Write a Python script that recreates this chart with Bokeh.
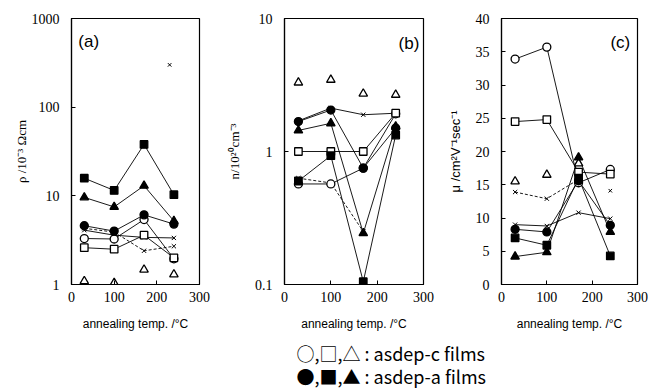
import math
from bokeh.plotting import figure
from bokeh.layouts import row, column
from bokeh.models import Range1d, FixedTicker, CustomJSTickFormatter, Label
from bokeh.core.properties import value
from bokeh.embed import file_html
from bokeh.resources import INLINE

nan = float("nan")

# annealing temperatures (deg C)
T = [30, 100, 170, 240]
x_ticks = [0, 100, 200, 300]

# (a) resistivity  rho / 10^-3 Ohm cm
a_open_circle = [3.3, 3.26, 5.4, 1.95]
a_open_square = [2.6, 2.5, 3.6, 2.0]
a_open_tri = [1.09, 1.04, 1.47, 1.3]
a_fill_circle = [4.6, 4.0, 6.1, 4.8]
a_fill_square = [15.8, 11.5, 38.0, 10.3]
a_fill_tri = [9.6, 7.5, 13.0, 5.2]
a_cross = [4.1, 3.6, 3.4, 3.35]
a_cross_dash = [4.3, 3.9, 2.4, 2.7]
a_extra_T = [230]
a_extra = [300]
a_ticks = [1, 10, 100, 1000]

# (b) carrier concentration  n / 10^20 cm^-3
b_open_circle = [0.57, 0.57, 0.75, 1.92]
b_open_square = [1.0, 1.0, 1.0, 1.94]
b_open_tri = [3.3, 3.46, 2.72, 2.67]
b_fill_circle = [1.68, 2.05, 0.75, 1.5]
b_fill_square = [0.6, 0.93, 0.105, 1.33]
b_fill_tri = [1.44, 1.63, 0.243, 1.54]
b_cross = [1.7, 2.12, 1.89, 1.94]
b_cross_dash = [0.63, 0.58, 0.25, nan]
b_ticks = [0.1, 1, 10]

# (c) mobility  mu / cm^2 V^-1 sec^-1
c_open_circle = [33.9, 35.7, 15.3, 17.3]
c_open_square = [24.5, 24.8, 16.9, 16.6]
c_open_tri = [15.5, 16.5, 18.2, nan]
c_fill_circle = [8.3, 7.9, 15.6, 8.9]
c_fill_square = [7.0, 5.9, 16.0, 4.3]
c_fill_tri = [4.2, 4.85, 19.1, 7.9]
c_cross = [9.0, 8.8, 10.8, 9.9]
c_cross_dash = [13.9, 12.9, 15.8, nan]
c_extra_T = [240]
c_extra = [14.1]
c_ticks = [0, 5, 10, 15, 20, 25, 30, 35, 40]

SERIF = "'Liberation Serif', 'Times New Roman', serif"
SANS = "'Liberation Sans', Arial, sans-serif"
JP = "'Noto Sans CJK JP', sans-serif"


def make_panel(series, extra, y_type, y_rng, ticks, ylabel, ylabel_font,
               tag, tag_x, tag_y, tag_align, bl, fw, br, lab_standoff):
    p = figure(frame_width=fw, frame_height=266,
               min_border_left=bl, min_border_right=br,
               min_border_top=18, min_border_bottom=56,
               x_range=Range1d(0, 300), y_range=Range1d(*y_rng),
               y_axis_type=y_type, toolbar_location=None,
               output_backend="svg")
    p.xgrid.visible = False
    p.ygrid.visible = False
    p.outline_line_color = "black"
    p.outline_line_width = 1.2
    p.background_fill_color = "white"
    p.border_fill_color = "white"
    for ax in p.axis:
        ax.axis_line_color = "black"
        ax.axis_line_width = 1.2
        ax.major_tick_in = 4
        ax.major_tick_out = 0
        ax.major_tick_line_color = "black"
        ax.minor_tick_line_color = None
        ax.major_label_text_font = SERIF
        ax.major_label_text_font_size = "14px"
        ax.major_label_text_color = "black"
        ax.axis_label_text_font_style = "normal"
        ax.axis_label_text_color = "black"
    p.xaxis.ticker = FixedTicker(ticks=x_ticks)
    p.xaxis.major_label_standoff = 7
    p.xaxis.axis_label = "annealing temp. /°C"
    p.xaxis.axis_label_text_font = SANS
    p.xaxis.axis_label_text_font_size = "12px"
    p.xaxis.axis_label_standoff = 12
    p.yaxis.ticker = FixedTicker(ticks=ticks)
    p.yaxis.formatter = CustomJSTickFormatter(code="return String(tick);")
    p.yaxis.major_label_standoff = 12
    p.yaxis.axis_label = ylabel
    p.yaxis.axis_label_text_font = ylabel_font
    p.yaxis.axis_label_text_font_size = "13px"
    p.yaxis.axis_label_standoff = lab_standoff

    # lines first
    for ys, marker, filled, dash, line in series:
        if line:
            p.line(T, ys, line_color="black", line_width=0.9, line_dash=dash)
    # markers on top
    for ys, marker, filled, dash, line in series:
        if marker == "x":
            p.scatter(T, ys, marker="x", size=6, line_color="black", line_width=1)
        else:
            sz = 8 if marker != "square" else 7.5
            if marker == "triangle":
                sz = 8.5
            p.scatter(T, ys, marker=marker, size=sz, line_color="black",
                      line_width=1.3, fill_color="black" if filled else "white")
    ex_T, ex_y = extra
    if ex_T:
        p.scatter(ex_T, ex_y, marker="x", size=5, line_color="black", line_width=1)

    p.add_layout(Label(x=tag_x, y=tag_y, text=tag, text_font=SANS,
                       text_font_size="17px", text_baseline="top",
                       text_align=tag_align, text_color="black"))
    return p


def series_list(oc, osq, otr, fc, fsq, ftr, cr, crd):
    return [
        (crd, "x", False, "3 2", True),
        (cr, "x", False, "solid", True),
        (oc, "circle", False, "solid", True),
        (osq, "square", False, "solid", True),
        (otr, "triangle", False, "solid", False),
        (fc, "circle", True, "solid", True),
        (fsq, "square", True, "solid", True),
        (ftr, "triangle", True, "solid", True),
    ]


pa = make_panel(series_list(a_open_circle, a_open_square, a_open_tri, a_fill_circle,
                            a_fill_square, a_fill_tri, a_cross, a_cross_dash),
                (a_extra_T, a_extra), "log", (1, 1000), a_ticks,
                "ρ /10⁻³ Ωcm", SERIF, "(a)", 16, 700, "left",
                71, 128, 24, 0)
pb = make_panel(series_list(b_open_circle, b_open_square, b_open_tri, b_fill_circle,
                            b_fill_square, b_fill_tri, b_cross, b_cross_dash),
                ([], []), "log", (0.1, 10), b_ticks,
                "n/10²⁰cm⁻³", SERIF, "(b)", 291, 7.7, "right",
                55, 139, 21, 10)
pc = make_panel(series_list(c_open_circle, c_open_square, c_open_tri, c_fill_circle,
                            c_fill_square, c_fill_tri, c_cross, c_cross_dash),
                (c_extra_T, c_extra), "linear", (0, 40), c_ticks,
                "μ /cm²V⁻¹sec⁻¹", SANS, "(c)", 284, 37.8, "right",
                53, 136, 24, 10)

leg = figure(width=648, height=50, x_range=Range1d(0, 648), y_range=Range1d(50, 0),
             x_axis_location=None, y_axis_location=None, toolbar_location=None,
             output_backend="svg", min_border=0)
leg.outline_line_color = None
leg.xgrid.visible = False
leg.ygrid.visible = False
legend_text = ["○,□,△ : asdep-c films", "●,■,▲ : asdep-a films"]
leg.text(x=[296, 296], y=[12, 35], text=legend_text, text_font=value(JP),
         text_font_size="18px", text_baseline="middle", text_align="left",
         text_color="black")

layout = column(row(pa, pb, pc), leg)
open("out.html", "w").write(file_html(layout, INLINE))
